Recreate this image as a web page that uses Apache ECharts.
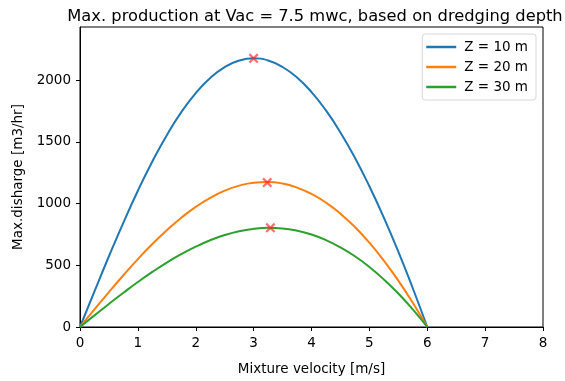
<!DOCTYPE html>
<html>
<head>
<meta charset="utf-8">
<script src="https://cdn.jsdelivr.net/npm/echarts@6/dist/echarts.min.js"></script>
<style>
html,body{margin:0;padding:0;background:#fff;}
#c{width:565px;height:381px;}
</style>
</head>
<body>
<div id="c"></div>
<script>
// Mixture velocity [m/s]
const velocity = [0,0.25,0.5,0.75,1,1.25,1.5,1.75,2,2.25,2.5,2.75,3,3.25,3.5,3.75,4,4.25,4.5,4.75,5,5.25,5.5,5.75,6];
// Max. discharge [m3/hr]
const z10 = [0,289,573,846,1104,1341,1554,1740,1895,2017,2105,2158,2176,2159,2106,2021,1903,1754,1576,1371,1140,886,610,314,0];
const z20 = [0,143,283,419,550,672,784,885,973,1046,1104,1145,1169,1175,1162,1129,1078,1008,918,810,683,538,376,196,0];
const z30 = [0,94,187,277,364,446,522,590,651,703,745,776,795,803,798,780,749,704,645,573,486,385,271,142,0];
const seriesNames = ['Z = 10 m','Z = 20 m','Z = 30 m'];
// maxima markers
const peakX = [3.0, 3.235, 3.29];
const peakY = [2176, 1170, 803];
const xTicks = [0,1,2,3,4,5,6,7,8];
const yTicks = [0,500,1000,1500,2000];

const colors = ['#1f77b4','#ff7f0e','#2ca02c'];
const font = 'DejaVu Sans';
const fs = 13.5;
const chart = echarts.init(document.getElementById('c'), null, {renderer:'canvas'});
const curves = [z10,z20,z30];
const lineSeries = curves.map((vals,k)=>({
  name: seriesNames[k],
  type:'line',
  data: velocity.map((v,i)=>[v, vals[i]]),
  showSymbol:false,
  symbol:'none',
  smooth:true,
  lineStyle:{color:colors[k], width:2},
  itemStyle:{color:colors[k]},
  z:2
}));
const xMark = 'path://M0,1.6L1.6,0L5,3.4L8.4,0L10,1.6L6.6,5L10,8.4L8.4,10L5,6.6L1.6,10L0,8.4L3.4,5Z';
chart.setOption({
  animation:false,
  backgroundColor:'#fff',
  title:{
    text:'Max. production at Vac = 7.5 mwc, based on dredging depth',
    left:310, textAlign:'center', top:4,
    textStyle:{fontFamily:font, fontSize:16.3, fontWeight:'normal', color:'#000'}
  },
  legend:{
    data: seriesNames.map((n,k)=>({name:n, icon:'rect', itemStyle:{color:colors[k]}})),
    orient:'vertical', right:29, top:34,
    itemWidth:30, itemHeight:2.5, itemGap:6,
    padding:[6,8,6,4],
    backgroundColor:'#fff', borderColor:'#d8d8d8', borderWidth:1, borderRadius:3,
    textStyle:{fontFamily:font, fontSize:fs, color:'#000', padding:[0,0,0,3]}
  },
  grid:{left:80, right:22, top:27, bottom:53.5, show:true, borderColor:'#000', borderWidth:1, backgroundColor:'transparent'},
  xAxis:{
    type:'value', min:0, max:8, interval:1,
    name:'Mixture velocity [m/s]', nameLocation:'middle', nameGap:35,
    nameTextStyle:{fontFamily:font, fontSize:fs, color:'#000'},
    axisLine:{show:true, lineStyle:{color:'#000', width:1}},
    axisTick:{show:true, length:4, lineStyle:{color:'#000'}, customValues:xTicks},
    axisLabel:{fontFamily:font, fontSize:fs, color:'#000', margin:9, customValues:xTicks},
    splitLine:{show:false}
  },
  yAxis:{
    type:'value', min:0, max:2430, interval:500,
    name:'Max.disharge [m3/hr]', nameLocation:'middle', nameGap:50, nameRotate:90,
    nameTextStyle:{fontFamily:font, fontSize:fs, color:'#000'},
    axisLine:{show:true, lineStyle:{color:'#000', width:1}},
    axisTick:{show:true, length:4, lineStyle:{color:'#000'}, customValues:yTicks},
    axisLabel:{fontFamily:font, fontSize:fs, color:'#000', margin:9, customValues:yTicks,
      formatter:(v)=>String(v)},
    splitLine:{show:false}
  },
  series: lineSeries.concat([{
    name:'max', type:'scatter',
    data: peakX.map((x,i)=>[x, peakY[i]]),
    symbol:xMark, symbolSize:10,
    itemStyle:{color:'rgba(255,30,30,0.8)'},
    z:5, silent:true
  }])
});
</script>
</body>
</html>
